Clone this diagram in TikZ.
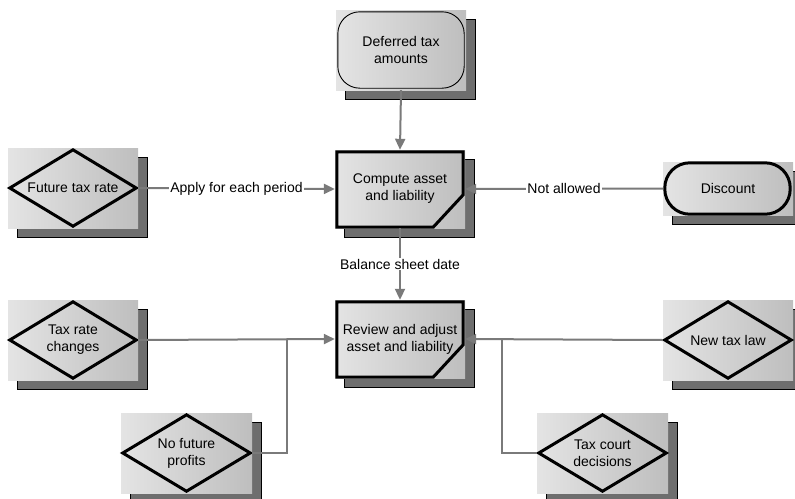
\documentclass[tikz,border=0pt]{standalone}
\usepackage{fontspec}
\setmainfont{Liberation Sans}
\usetikzlibrary{arrows.meta,shadows,calc}
\definecolor{panelL}{HTML}{E4E4E4}
\definecolor{panelR}{HTML}{BEBEBE}
\definecolor{shadowgray}{HTML}{6E6E6E}
\definecolor{linegray}{HTML}{7A7A7A}
\newcommand{\lab}{\fontsize{14}{17}\selectfont}
\begin{document}
\begin{tikzpicture}[x=1pt,y=-1pt,
  panel/.style={rectangle, inner sep=0pt, minimum width=130pt, minimum height=80pt,
    left color=panelL, right color=panelR, draw=none, font=\lab, align=center,
    general shadow={fill=shadowgray, draw=black, line width=0.9pt,
      shadow xshift=9pt, shadow yshift=-9pt}},
  outline/.style={draw=black, line width=3pt, line join=miter},
  thinline/.style={draw=black, line width=0.9pt},
  conn/.style={draw=linegray, line width=2pt},
  arr/.style={conn, -{Triangle[length=11pt,width=10pt]}},
  tag/.style={fill=white, inner sep=1pt, font=\lab}]
\useasboundingbox (0,0) rectangle (795,498);

% panels with their drop shadows
\node[panel] (def)  at (401,50)    {Deferred tax\\amounts};
\node[panel, minimum height=78pt] (comp) at (400,189) {Compute asset\\and liability};
\node[panel] (ftr)  at (73,188)    {Future tax rate};
\node[panel, minimum height=53pt] (disc) at (728,188.5) {Discount};
\node[panel, minimum height=78pt] (rev)  at (400,339) {Review and adjust\\asset and liability};
\node[panel] (trc)  at (73,340)    {Tax rate\\changes};
\node[panel] (ntl)  at (728,340)   {New tax law};
\node[panel, minimum width=131pt] (nfp)  at (186.5,453) {No future\\profits};
\node[panel, minimum width=131pt] (tcd)  at (602.5,453) {Tax court\\decisions};

% shapes drawn on the panels
\draw[thinline, rounded corners=22pt]
  ($(def.north west)+(2,2)$) rectangle ($(def.south east)+(-2,-2)$);
\foreach \n in {comp,rev}{
  \draw[outline]
    ($(\n.north west)+(2,2)$) -- ($(\n.north east)+(-2,2)$) --
    ($(\n.north east)+(-2,45)$) -- ($(\n.south east)+(-32,-1)$) --
    ($(\n.south west)+(2,-1)$) -- cycle;
}
\foreach \n in {ftr,trc,ntl,nfp,tcd}{
  \draw[outline]
    ($(\n.west)+(2,0)$) -- ($(\n.north)+(0,2)$) --
    ($(\n.east)+(-2,0)$) -- ($(\n.south)+(0,-2)$) -- cycle;
}
\draw[outline, rounded corners=25pt]
  ($(disc.north west)+(2,1)$) rectangle ($(disc.south east)+(-3,-1)$);

% connectors
\coordinate (jl) at (287,340);
\coordinate (jr) at (502,340);
\draw[arr] (def.south) -- (comp.north);
\draw[arr] (comp.south) -- node[tag] {Balance sheet date} (rev.north);
\draw[arr] (ftr.east) -- node[tag] {Apply for each period} (comp.west);
\draw[arr] (disc.west) -- node[tag] {Not allowed} (comp.east);
\draw[arr] (trc.east) -- (rev.west);
\draw[conn] (nfp.east) -| (jl);
\draw[arr] (ntl.west) -- (rev.east);
\draw[conn] (tcd.west) -| (jr);
\end{tikzpicture}
\end{document}
